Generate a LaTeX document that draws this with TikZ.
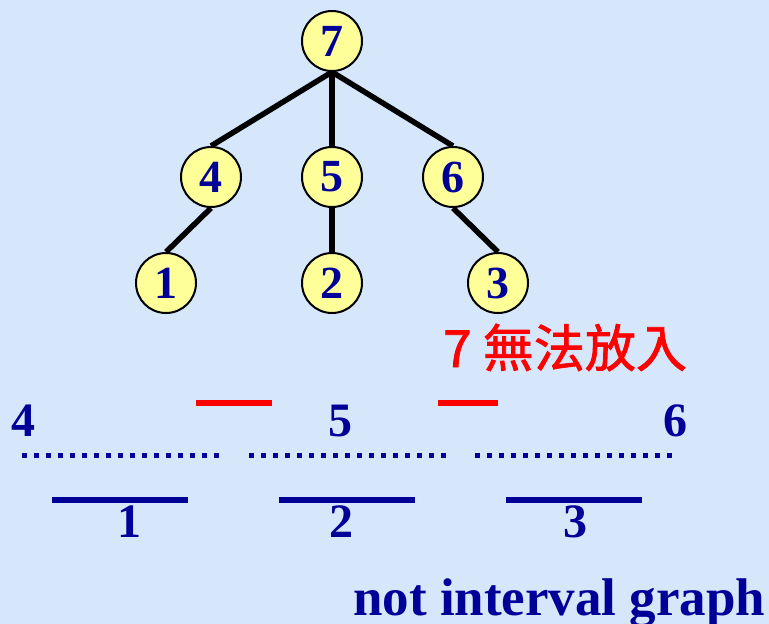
\documentclass[tikz,border=0pt]{standalone}
\usepackage{fontspec}
\setmainfont{Liberation Serif}
\newfontfamily\cjkfont[FakeBold=1.6]{Noto Sans CJK TC}
\usetikzlibrary{backgrounds}
\definecolor{bgblue}{HTML}{D6E7FB}
\definecolor{nodeyellow}{HTML}{FFFF99}
\definecolor{dblue}{HTML}{000099}
\begin{document}
\begin{tikzpicture}[x=1pt,y=-1pt,
  vertex/.style={circle,draw=black,line width=2pt,fill=nodeyellow,minimum size=60pt,inner sep=0pt,
    text=dblue,font=\fontsize{46}{46}\selectfont\bfseries},
  edge/.style={line width=5.5pt,black},
  lbl/.style={inner sep=0pt,text=dblue,font=\fontsize{48}{48}\selectfont\bfseries},
  interval/.style={line width=6pt,dblue},
  redint/.style={line width=6pt,red},
  dotint/.style={line width=5pt,dblue,dash pattern=on 5pt off 7pt}]
\useasboundingbox (0,0) rectangle (769,624);
\begin{scope}[on background layer]
\fill[bgblue] (0,0) rectangle (769,624);
\end{scope}
% tree
\node[vertex] (n7) at (332,41) {7};
\node[vertex] (n4) at (211,177) {4};
\node[vertex] (n5) at (332,177) {5};
\node[vertex] (n6) at (453,177) {6};
\node[vertex] (n1) at (166,283) {1};
\node[vertex] (n2) at (332,283) {2};
\node[vertex] (n3) at (498,283) {3};
\begin{scope}[on background layer]
\draw[edge] (n7.south) -- (n4.north);
\draw[edge] (n7.south) -- (n5.north);
\draw[edge] (n7.south) -- (n6.north);
\draw[edge] (n4.south) -- (n1.north);
\draw[edge] (n5.south) -- (n2.north);
\draw[edge] (n6.south) -- (n3.north);
\end{scope}
% red caption
\node[anchor=base west,inner sep=0pt,text=red,font=\fontsize{51}{51}\selectfont\cjkfont] (cap) at (443,367) {7 無法放入};
% intervals
\node[lbl] (l4) at (24,421) {4};
\node[lbl] (l5) at (340,421) {5};
\node[lbl] (l6) at (675,421) {6};
\draw[dotint] (22,455) -- (220,455);
\draw[dotint] (249,455) -- (447,455);
\draw[dotint] (475,455) -- (673,455);
\draw[redint] (196,403) -- (272,403);
\draw[redint] (438,403) -- (498,403);
\draw[interval] (52,500) -- (188,500);
\draw[interval] (279,500) -- (415,500);
\draw[interval] (506,500) -- (642,500);
\node[lbl] (l1) at (129,522) {1};
\node[lbl] (l2) at (341,522) {2};
\node[lbl] (l3) at (575,522) {3};
\node[anchor=base west,inner sep=0pt,text=dblue,font=\fontsize{53}{53}\selectfont\bfseries] (note) at (353,615) {not interval graph};
\end{tikzpicture}
\end{document}
